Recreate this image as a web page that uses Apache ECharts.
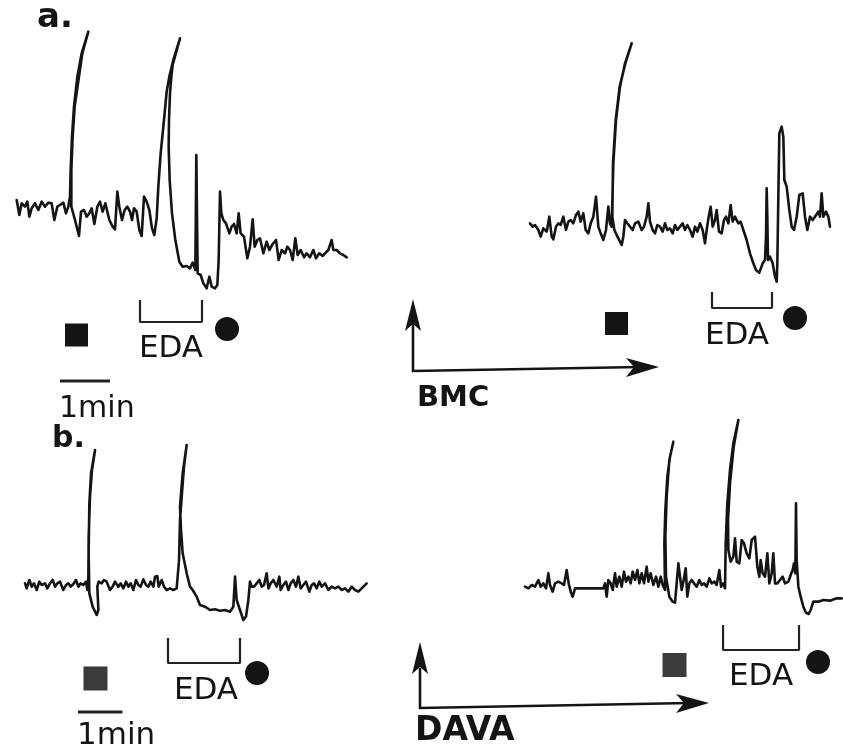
<!DOCTYPE html>
<html>
<head>
<meta charset="utf-8">
<title>EDA traces</title>
<script src="https://cdn.jsdelivr.net/npm/echarts@6/dist/echarts.min.js"></script>
<style>
  html, body { margin: 0; background: #fff; }
  #chart { width: 843px; height: 750px; }
</style>
</head>
<body>
<div id="chart"></div>
<script>
// traces: [time (s), pen deflection (arb. units)]
const traceA1 = [[20,30],[23.2,25.5],[26,29],[30,28],[32.8,29.5],[35.2,25],[38,27.5],[42,29],[46,27],[50,29.5],[54,28],[58,29.2],[62,29],[65.2,24],[68.8,28],[72,28.5],[76,29.2],[79.2,26],[82,28],[84,31],[84.8,39],[86.4,49],[88.8,58],[92.8,67],[98,74],[106,80.5],[98.8,74],[89.6,58],[87.2,49],[85.6,39],[85.6,28],[90,24],[94.8,19.2],[97.2,26.5],[100.8,27],[104,25],[107.2,26],[110,27.5],[113.2,22.8],[116.8,28],[120,29.5],[123.2,26.5],[126.4,29],[128.8,28.5],[131.2,24],[135.2,22],[138,21.2],[140.8,32.5],[143.2,28],[146.4,24],[149.6,27],[152.8,28],[156,26.5],[158.4,24],[160.8,27.5],[164,26.5],[167.2,21],[170,19.2],[172.8,31],[176,29.5],[179.2,27],[182.4,21.5],[185.2,19.5],[188,24.5],[190,34],[192.8,44],[196.8,54],[200,62.5],[203.2,67],[208,72],[216,78.5],[207.2,70.5],[205.6,67],[204,62],[202.8,54],[202.4,46],[203.6,36],[206.4,26],[210.4,18],[215.2,11.5],[219.2,10],[224,10.2],[228,9.5],[231.2,11.2],[234.4,9],[235.6,43.5],[237.2,8],[240.8,7.5],[244,5],[248,3.5],[251.2,7],[254,4],[258,3.5],[260.8,4.5],[262.4,12],[264,32.5],[265.6,26],[268,24],[271.2,23],[275.2,20],[278,22],[280.8,22.8],[284,20],[286.4,26],[288.8,20],[292.8,19],[296.8,12.5],[300,16],[303.2,24.2],[305.6,16],[308.8,18],[312,18.5],[316,14],[320,17.5],[323.2,15],[327.2,16.8],[331.2,18],[334.4,12],[338,15],[342,14],[344.8,16],[348,15],[351.2,12],[354.4,18.5],[357.2,13.5],[360.8,15],[364.8,12.8],[368,14],[372,12.8],[376,15],[379.2,12.5],[383.2,14],[387.2,13.2],[390,14],[394,15],[398,18],[400,15],[404,15],[408,14],[412,13.5],[416,12.8]];

const traceA2 = [[12,23],[15.2,22],[18,22.5],[22,21],[24.8,19],[28,21.5],[32,20.5],[35.2,25],[38,19],[40,18.2],[43.2,22],[46,23],[48.8,22.5],[52,25],[55.2,21],[58,23.5],[60.8,24],[64,23],[67.2,25.5],[70,26.5],[72.8,23.5],[76,26],[78.8,21],[82,20],[84.8,23],[88,25],[91.2,31],[94,22],[96.8,20],[100,18],[103.2,21],[106,28],[108,23],[110,22],[112,41],[115.2,54],[120,64],[126,71],[134,77],[126.4,71],[119.6,64],[114.8,54],[111.6,41],[110.8,25],[113.2,21],[118,18.5],[122,16.5],[124,19],[126,24],[128.8,23],[132,22],[135.2,21],[138,23],[142,23.5],[146,21],[148.8,22],[152,25],[154,29],[156,23.5],[159.2,21],[162,20],[164.8,22.5],[168,22],[171.2,20.5],[174,23],[176.8,21],[180,21.5],[183.2,20],[186,22.5],[188.8,21],[192,22],[195.2,23],[198,21],[200.8,22.5],[204,21],[207.2,19],[210,22],[212.8,20.5],[216,23],[219.2,21],[222,17],[224,21],[226.4,25],[228.8,28],[231.2,22],[234,24],[236,27],[238.8,20.5],[242,20],[244.8,24],[247.2,25],[250,23],[252.8,28.5],[255.2,23.5],[258,25],[262,23],[264.8,23.5],[268,21],[272,18],[276,14],[280,11],[283.2,9],[287.2,8.2],[291.2,11],[294,12],[295.2,19],[296,33.5],[296.8,25],[297.6,12],[300,13],[303.2,11],[306,7],[308,5.5],[308.8,11],[310,31],[311.2,50],[314,52],[316,49],[317.2,36],[320,34],[323.2,27],[326,22],[328.8,21],[332,25],[335.2,31.5],[339.2,32],[342,25],[344.8,21],[348,25],[351.2,24],[354,25],[358,26.5],[360,25],[362,32],[364,25],[367.2,26.5],[370,25],[372,22]];

const traceB1 = [[33.8,17],[36,15.5],[39.6,18],[42.8,16],[45.9,17],[49.5,15],[53.1,17.5],[56.3,16.5],[60.8,17],[63.9,15.5],[67.5,17],[71.1,18],[74.3,16],[77.4,17],[81,17.5],[85.5,15],[89.1,16.5],[92.3,17],[95.4,16],[99,16.8],[102.6,18],[105.8,16],[108.9,17],[112.5,16.5],[116.1,17.5],[117.9,15],[119.3,19],[119.7,31],[121.5,43],[124.2,51],[128.3,57],[122.9,50],[120.6,41],[119.7,26],[120.6,14],[125.1,10],[130.5,7.5],[132.8,9],[131.4,16],[133.2,17.5],[137.3,17],[140.4,18],[144,17.5],[148.5,15],[152.1,16],[155.3,17.5],[159.8,16],[162.9,17],[166.5,15.5],[170.1,17.5],[173.3,16],[176.4,17],[180,15],[183.6,18],[186.8,16.5],[189.9,16],[193.5,18.2],[197.1,16.5],[200.3,16],[203.4,17.5],[207,16],[209.3,19],[212.4,19.2],[214.2,16],[218.3,18],[221.4,16],[225,15],[229.5,15.5],[234,15],[238.5,15.5],[240.8,15],[241.7,24],[243,36],[245.3,43],[248.4,52],[252,58.5],[246.6,50],[243,40],[244.4,33],[246.6,26],[252,20],[256.5,16],[260.1,15],[265.5,13],[270,10.5],[276.8,10],[283.5,9],[290.3,9.2],[297,8.8],[303.8,9],[310.5,8.5],[315,10],[317.3,19],[319.5,12],[324,9],[328.5,6],[332.1,7],[335.3,12],[337.5,17.5],[339.8,16],[342.9,16],[346.5,17],[350.1,18],[353.3,16],[356.4,16.5],[360,20],[362.3,15.5],[365.4,17],[369,18],[373.5,16],[377.1,19],[378.9,15],[382.5,16.5],[386.1,17.5],[389.3,15],[392.4,17],[396,18],[399.6,16],[402.8,19],[405.9,15.5],[409.5,16.5],[413.1,17.5],[417.6,14.5],[420.8,16.5],[423.9,17],[427.5,15.5],[431.1,17.5],[434.3,16],[438.8,17],[443.3,15],[447.8,16],[452.3,15.5],[456.8,16],[461.3,15],[465.8,15.5],[470.3,14.5],[474.8,16],[479.3,15],[483.8,14.5],[488.3,15.5],[495,17]];

const traceB2 = [[6.8,16],[11.3,15.5],[15.8,16.5],[20.3,16],[24.8,18],[27.9,16],[31.5,17],[35.1,15.5],[38.3,20],[40.5,16.5],[44.1,14.5],[47.3,17],[51.8,17.5],[56.3,17],[59.4,16.5],[63,21],[65.7,17],[68.4,14.5],[71.1,13],[74.3,15.5],[112.5,15.5],[114.8,17],[117,13],[119.3,18],[122.4,17],[125.1,15],[128.3,20],[130.5,16],[134.1,19],[137.3,16],[140.4,20.5],[143.1,17.5],[146.3,19],[149.4,17],[152.1,20.5],[155.3,18],[158.4,21],[161.1,17],[164.3,20],[167.4,17],[171,22],[173.3,17.5],[176.4,20],[180,16.5],[183.6,19],[186.8,16],[189.9,19],[192.6,16.5],[195.8,15],[194.9,29],[196.2,39],[198.9,49],[202.5,55],[207,59.5],[201.6,54],[198,43],[196.2,31],[197.1,19],[201.6,13],[206.1,11.5],[209.3,11.2],[211.5,17],[213.8,23],[216,19],[218.3,15],[220.5,17.5],[223.7,21.5],[225.9,13],[228.6,17],[231.8,18],[234.9,17],[238.5,16],[242.1,18],[245.3,16.5],[248.4,17],[252,16],[255.6,18.5],[258.8,17],[262.4,17.5],[265.5,16.5],[269.1,21],[271.4,16],[274.5,17],[276.8,15.5],[277.7,29],[279.9,41],[283.5,51],[288,59],[294.8,66],[288.5,58],[283.5,47],[280.8,36],[281.3,27],[284.4,23.5],[288,25],[290.3,30.5],[292.5,23.5],[296.1,23],[299.3,30],[302.4,29],[306,26],[309.6,24.5],[312.8,30],[317.3,31],[320.4,22],[323.1,19],[324.9,24],[327.6,20],[330.8,19],[333.9,26],[336.6,17],[339.8,20],[342,26],[344.3,17],[347.4,17],[351,18],[354.6,19],[357.8,17],[362.3,17.5],[365.4,19.5],[368.1,21],[369.9,23],[371.7,20],[372.6,41],[373.5,24],[375.8,16],[378.9,13],[382.5,10],[386.1,8.2],[389.7,7.8],[392.4,9],[396,11.5],[402.8,11.5],[409.5,12],[418.5,11.8],[427.5,12.5],[434.3,12.5]];

// event markers, one entry per trace (s)
const stimulusTimes = [91.8, 115.8, 128.9, 208.6];          // filled square
const edaWindows = [[168, 242.4], [230.4, 302.4], [226.8, 324], [274.1, 376.7]];
const recoveryTimes = [272.4, 330, 347, 402.3];              // filled circle
// 1 min time bars (panel a left, panel b left)
const scaleBarA = [72, 132];
const scaleBarB = [105.3, 165.3];

const traces = [traceA1, traceA2, traceB1, traceB2];

// layout of each trace box
const panels = [
  { grid: { left: 0, top: 0, width: 360, height: 420 }, xMax: 432, yMin: -36, yMax: 90,
    squareV: -10.5, squareSize: 23, squareColor: '#141414', bracketV: [0, -6.6], circleV: -8.7, edaBase: 360, edaDx: 0 },
  { grid: { left: 520, top: 0, width: 323, height: 420 }, xMax: 387.6, yMin: -36, yMax: 90,
    squareV: -7.05, squareSize: 23, squareColor: '#141414', bracketV: [2.4, -2.4], circleV: -5.4, edaBase: 347, edaDx: -5 },
  { grid: { left: 0, top: 420, width: 380, height: 330 }, xMax: 513, yMin: -33, yMax: 66,
    squareV: -11.55, squareSize: 24, squareColor: '#3b3b3b', bracketV: [0.6, -6.9], circleV: -9.9, edaBase: 702, edaDx: 2 },
  { grid: { left: 520, top: 420, width: 323, height: 330 }, xMax: 436.05, yMin: -33, yMax: 66,
    squareV: -7.5, squareSize: 24, squareColor: '#3b3b3b', bracketV: [4.5, -3], circleV: -6.6, edaBase: 688, edaDx: 0 }
];

const ink = '#141414';
const chart = echarts.init(document.getElementById('chart'));

const grid = [], xAxis = [], yAxis = [], series = [];
panels.forEach((p, i) => {
  grid.push(Object.assign({ outerBoundsMode: 'none', containLabel: false }, p.grid));
  xAxis.push({ type: 'value', gridIndex: i, min: 0, max: p.xMax, show: false });
  yAxis.push({ type: 'value', gridIndex: i, min: p.yMin, max: p.yMax, show: false });

  series.push({
    type: 'line', xAxisIndex: i, yAxisIndex: i,
    data: traces[i],
    showSymbol: false, silent: true, clip: false,
    lineStyle: { color: ink, width: 2.6, join: 'round', cap: 'round' }
  });
  // EDA bracket
  const w = edaWindows[i];
  series.push({
    type: 'line', xAxisIndex: i, yAxisIndex: i, silent: true, showSymbol: false, clip: false,
    data: [[w[0], p.bracketV[0]], [w[0], p.bracketV[1]], [w[1], p.bracketV[1]], [w[1], p.bracketV[0]]],
    lineStyle: { color: '#222', width: 2.2 }
  });
  series.push({
    type: 'scatter', xAxisIndex: i, yAxisIndex: i, silent: true, clip: false,
    symbol: 'rect', symbolSize: p.squareSize,
    itemStyle: { color: p.squareColor, opacity: 1 },
    data: [[stimulusTimes[i], p.squareV]]
  });
  series.push({
    type: 'scatter', xAxisIndex: i, yAxisIndex: i, silent: true, clip: false,
    symbol: 'circle', symbolSize: 24,
    itemStyle: { color: ink, opacity: 1 },
    data: [[recoveryTimes[i], p.circleV]]
  });
});

// 1 min bars
series.push({
  type: 'line', xAxisIndex: 0, yAxisIndex: 0, silent: true, showSymbol: false, clip: false,
  data: [[scaleBarA[0], -24.3], [scaleBarA[1], -24.3]],
  lineStyle: { color: '#222', width: 3 }
});
series.push({
  type: 'line', xAxisIndex: 2, yAxisIndex: 2, silent: true, showSymbol: false, clip: false,
  data: [[scaleBarB[0], -21.6], [scaleBarB[1], -21.6]],
  lineStyle: { color: '#222', width: 3 }
});

chart.setOption({
  animation: false,
  backgroundColor: '#fff',
  grid, xAxis, yAxis, series
});

function txt(text, x, y, size, weight, align) {
  return {
    type: 'text', x, y, silent: true,
    style: {
      text, fill: ink, font: (weight || 'normal') + ' ' + size + 'px "DejaVu Sans"',
      align: align || 'left', verticalAlign: 'middle'
    }
  };
}
function arrow(pts, headUp, headRight) {
  return [
    { type: 'polyline', silent: true, shape: { points: pts }, style: { stroke: ink, lineWidth: 2.6, fill: null } },
    { type: 'polygon', silent: true, shape: { points: headUp }, style: { fill: ink } },
    { type: 'polygon', silent: true, shape: { points: headRight }, style: { fill: ink } }
  ];
}

const graphic = [
  txt('a.', 37, 18, 34, 'bold'),
  txt('b.', 52, 439, 30, 'bold'),
  txt('1min', 59, 409, 30),
  txt('1min', 77, 736, 31),
  txt('BMC', 417, 398, 29, 'bold'),
  txt('DAVA', 415, 731, 33, 'bold')
].concat(
  arrow([[413, 322], [413, 371], [640, 367]],
        [[413, 299], [405, 331], [413, 324], [421, 331]],
        [[659, 367], [626, 358], [634, 367], [626, 377]]),
  arrow([[420, 668], [420, 708], [690, 703]],
        [[420, 642], [412, 674], [420, 667], [428, 674]],
        [[709, 703], [676, 694], [684, 703], [676, 713]])
);

panels.forEach((p, i) => {
  const w = edaWindows[i];
  const px = chart.convertToPixel({ gridIndex: i }, [(w[0] + w[1]) / 2, 0]);
  graphic.push(txt('EDA', px[0] + p.edaDx, p.edaBase - 11, 31, 'normal', 'center'));
});

chart.setOption({ graphic });
</script>
</body>
</html>
